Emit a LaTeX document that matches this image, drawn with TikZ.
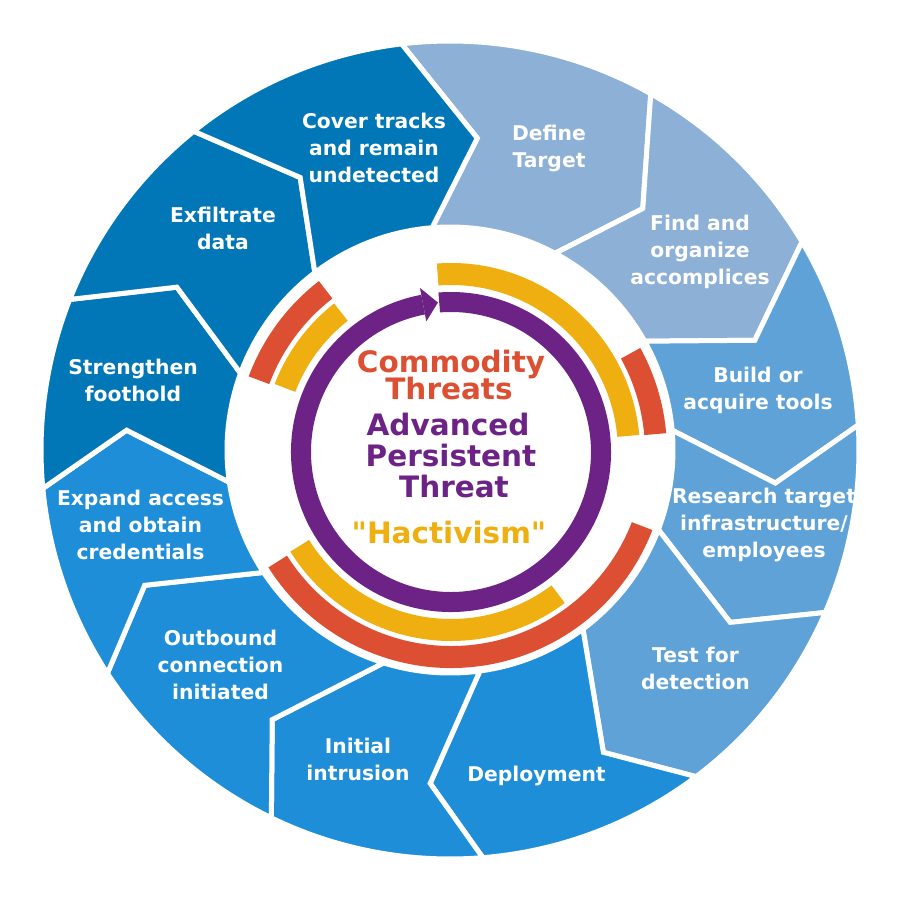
\documentclass[tikz,border=0pt]{standalone}
\usepackage{fontspec}
\setmainfont{DejaVu Sans}
\newfontfamily\plainquotefont{DejaVu Sans}
\definecolor{segLight}{HTML}{8DB0D6}
\definecolor{segMid}{HTML}{5EA2D8}
\definecolor{segBright}{HTML}{1F8ED9}
\definecolor{segDark}{HTML}{0277B7}
\definecolor{apRed}{HTML}{DD4F32}
\definecolor{apYellow}{HTML}{EFAF10}
\definecolor{apPurple}{HTML}{6C2385}
\def\Ro{409}
\def\Ri{223}
% segment: fill, a.out, a.tipang, a.tipr, a.in, b.out, b.tipang, b.tipr, b.in
\newcommand\apseg[9]{%
  \filldraw[segline, fill=#1] (#2:\Ro) arc[start angle=#2, end angle=#6, radius=\Ro]
    -- (#7:#8) -- (#9:\Ri) arc[start angle=#9, end angle=#5, radius=\Ri]
    -- (#3:#4) -- cycle;}
% band: colour, start, end, rin, rout
\newcommand\apband[5]{%
  \fill[#1] (#2:#4) arc[start angle=#2, end angle=#3, radius=#4]
    -- (#3:#5) arc[start angle=#3, end angle=#2, radius=#5] -- cycle;}
\begin{document}
\begin{tikzpicture}[x=1pt,y=1pt,
  segline/.style={draw=white, line width=5pt},
  lbl/.style={text=white, font=\bfseries\fontsize{20.3}{27}\selectfont, align=center, inner sep=0pt},
  ctr/.style={font=\bfseries\fontsize{29.5}{30}\selectfont, anchor=base, inner sep=0pt}]
\useasboundingbox (0,0) rectangle (900,-900);
\fill[white] (0,0) rectangle (900,-900);
\begin{scope}[shift={(450,-450)}]
  \apseg{segLight}{96.8}{85.0}{313}{94.6}{60.6}{51.4}{309}{61.9}
  \apseg{segLight}{60.6}{51.4}{309}{61.9}{30.6}{19.8}{324}{29.2}
  \apseg{segMid}{30.6}{19.8}{324}{29.2}{3.5}{-5.8}{327}{5.1}
  \apseg{segMid}{3.5}{-5.8}{327}{5.1}{-23.4}{-31.6}{329}{-20.9}
  \apseg{segMid}{-23.4}{-31.6}{329}{-20.9}{-53.0}{-63.1}{339}{-53.4}
  \apseg{segBright}{-53.0}{-63.1}{339}{-53.4}{-85.4}{-93.4}{334}{-82.3}
  \apseg{segBright}{-85.4}{-93.4}{334}{-82.3}{-115.9}{-123.4}{323}{-107.3}
  \apseg{segBright}{-115.9}{-123.4}{323}{-107.3}{-146.9}{-156.1}{334}{-146.7}
  \apseg{segBright}{-146.9}{-156.1}{334}{-146.7}{-174.6}{-183.5}{324}{-171.7}
  \apseg{segDark}{-174.6}{-183.5}{324}{-171.7}{-201.6}{-210.8}{318}{-200.1}
  \apseg{segDark}{-201.6}{-210.8}{318}{-200.1}{-231.2}{-241.2}{311}{-232.7}
  \apseg{segDark}{-231.2}{-241.2}{311}{-232.7}{-263.2}{-275.0}{313}{-265.4}
\end{scope}
\begin{scope}[shift={(451,-452)}]
  \apband{apYellow}{94.3}{5.2}{167}{189}
  \apband{apRed}{28.8}{5.0}{194}{216}
  \apband{apRed}{127.7}{159.5}{194}{216}
  \apband{apYellow}{128.2}{158.9}{167}{189}
  \apband{apRed}{212.3}{338.8}{194}{216}
  \apband{apYellow}{211.8}{307.0}{167}{189}
  \apband{apPurple}{94.5}{-259.3}{140}{160}
  \fill[apPurple] (-259.3:133) -- (-259.3:167) -- (-265.0:150) -- cycle;
\end{scope}
\node[lbl] (cover) at (374,-148) {Cover tracks\\and remain\\undetected};
\node[lbl] (exfil) at (223,-228) {Exfiltrate\\data};
\node[lbl] (streng) at (133,-380) {Strengthen\\foothold};
\node[lbl] (expand) at (140.5,-524.5) {Expand access\\and obtain\\credentials};
\node[lbl] (outbound) at (220.5,-665) {Outbound\\connection\\initiated};
\node[lbl] (initial) at (358,-759) {Initial\\intrusion};
\node[lbl] (deploy) at (536.5,-776) {Deployment};
\node[lbl] (test) at (695.5,-668) {Test for\\detection};
\node[lbl] (research) at (764,-525) {Research target\\infrastructure/\\employees};
\node[lbl] (build) at (758,-390) {Build or\\acquire tools};
\node[lbl] (find) at (700,-252) {Find and\\organize\\accomplices};
\node[lbl] (define) at (549,-148) {Define\\Target};
\node[ctr, text=apRed, text depth=0pt] (commodity1) at (451,-372) {Commodity};
\node[ctr, text=apRed] (commodity2) at (449,-399) {Threats};
\node[ctr, text=apPurple] (apt1) at (448,-435) {Advanced};
\node[ctr, text=apPurple] (apt2) at (451,-466) {Persistent};
\node[ctr, text=apPurple] (apt3) at (454,-497) {Threat};
\node[ctr, text=apYellow] (hact) at (449,-543) {\plainquotefont\bfseries "Hactivism"};
\end{tikzpicture}
\end{document}
